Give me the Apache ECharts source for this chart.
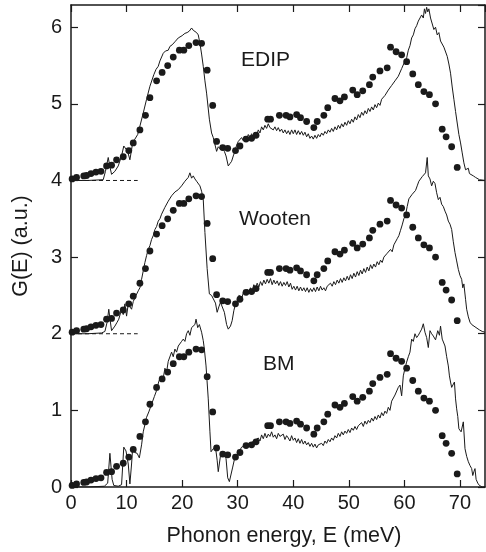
<!DOCTYPE html>
<html>
<head>
<meta charset="utf-8">
<script src="https://cdn.jsdelivr.net/npm/echarts@6/dist/echarts.min.js"></script>
<style>
html,body{margin:0;padding:0;background:#fff;}
#chart{width:486px;height:552px;}
</style>
</head>
<body>
<div id="chart"></div>
<script>
// Experimental points (unshifted G(E))
const expE = [0.2,1.0,2.3,2.8,3.6,4.5,5.4,6.4,7.3,8.2,9.4,10.4,11.2,12.4,13.4,14.2,15.4,16.4,17.4,18.4,19.5,20.3,21.2,22.5,23.5,24.5,25.5,26.2,27.3,28.2,29.6,30.4,31.5,32.5,33.3,35.4,35.9,37.5,38.7,39.4,40.6,41.3,42.4,43.7,44.3,45.5,46.2,47.5,48.4,49.2,50.7,51.5,52.5,53.7,54.3,55.6,56.9,57.5,58.5,59.5,60.4,61.5,62.5,63.5,64.5,65.6,66.8,67.5,68.5,69.5];
const expG = [0.02,0.04,0.06,0.065,0.09,0.11,0.12,0.19,0.20,0.27,0.31,0.39,0.49,0.66,0.85,1.08,1.30,1.41,1.50,1.61,1.70,1.70,1.76,1.80,1.79,1.44,0.98,0.51,0.43,0.42,0.39,0.45,0.54,0.55,0.59,0.80,0.80,0.85,0.85,0.83,0.86,0.82,0.77,0.69,0.77,0.85,0.95,1.07,1.04,1.09,1.18,1.12,1.17,1.25,1.35,1.43,1.47,1.74,1.68,1.64,1.55,1.39,1.25,1.16,1.12,1.00,0.67,0.57,0.44,0.17];

// Model curves [E, G] (unshifted)
const bmCurve = [[0,0],[3,0],[6,0.01],[6.6,0.05],[7.0,0.44],[7.4,0.1],[7.7,0.02],[8.5,0.01],[9.1,0.03],[9.5,0.52],[9.9,0.47],[10.3,0.3],[10.6,0.04],[10.9,0.3],[11.1,0.51],[11.5,0.45],[11.9,0.44],[12.3,0.38],[12.7,0.55],[13.0,0.72],[13.6,0.91],[14.0,0.98],[14.5,1.08],[15.0,1.18],[15.4,1.26],[15.8,1.38],[16.3,1.45],[16.6,1.42],[16.9,1.55],[17.2,1.5],[17.5,1.64],[17.8,1.62],[18.1,1.76],[18.4,1.70],[18.7,1.8],[19.0,1.76],[19.3,1.84],[19.6,1.83],[19.9,1.9],[20.2,1.93],[20.5,1.9],[20.8,2.0],[21.1,2.04],[21.4,1.98],[21.7,2.08],[22.0,2.06],[22.3,2.12],[22.5,2.19],[22.8,2.08],[23.1,2.12],[23.5,2.02],[23.8,1.91],[24.0,1.8],[24.3,1.58],[24.7,1.15],[25.0,0.72],[25.2,0.46],[25.6,0.5],[26.0,0.52],[26.3,0.35],[26.5,0.2],[26.9,0.41],[27.4,0.43],[27.9,0.37],[28.2,0.12],[28.5,0.07],[28.8,0.08],[29.1,0.26],[29.5,0.39],[30.1,0.43],[30.4,0.48],[30.7,0.52],[31.0,0.5],[31.3,0.54],[31.6,0.52],[31.9,0.57],[32.2,0.53],[32.5,0.58],[32.8,0.56],[33.1,0.61],[33.4,0.59],[33.7,0.64],[34.0,0.6],[34.3,0.68],[34.6,0.63],[34.9,0.7],[35.2,0.64],[35.5,0.69],[35.8,0.66],[36.1,0.72],[36.4,0.65],[36.7,0.68],[37.0,0.63],[37.3,0.7],[37.6,0.66],[37.9,0.64],[38.2,0.69],[38.5,0.62],[38.8,0.67],[39.1,0.64],[39.4,0.6],[39.7,0.67],[40.0,0.61],[40.3,0.64],[40.6,0.58],[40.9,0.63],[41.2,0.57],[41.5,0.62],[41.8,0.56],[42.1,0.6],[42.4,0.55],[42.7,0.58],[43.0,0.53],[43.3,0.57],[43.6,0.52],[43.9,0.56],[44.2,0.51],[44.5,0.55],[44.8,0.53],[45.1,0.57],[45.4,0.54],[45.7,0.6],[46.0,0.57],[46.3,0.62],[46.6,0.59],[46.9,0.64],[47.2,0.61],[47.5,0.67],[47.8,0.64],[48.1,0.7],[48.4,0.66],[48.7,0.72],[49.0,0.68],[49.3,0.73],[49.6,0.7],[49.9,0.75],[50.2,0.71],[50.5,0.77],[50.8,0.74],[51.1,0.79],[51.4,0.75],[51.7,0.8],[52.0,0.78],[52.3,0.84],[52.6,0.79],[52.9,0.86],[53.2,0.82],[53.5,0.87],[53.8,0.84],[54.1,0.9],[54.4,0.86],[54.7,0.92],[55.0,0.88],[55.3,0.94],[55.6,0.9],[55.9,0.97],[56.2,0.93],[56.5,0.99],[56.8,0.96],[57.1,1.04],[57.4,1.0],[57.7,1.12],[58.0,1.1],[58.3,1.2],[58.6,1.18],[58.9,1.3],[59.2,1.33],[59.5,1.19],[59.8,1.45],[60.1,1.55],[60.4,1.63],[60.7,1.7],[61.0,1.76],[61.3,1.93],[61.6,1.9],[61.9,2.0],[62.2,1.95],[62.5,1.98],[62.8,2.02],[63.1,2.06],[63.4,2.13],[63.7,2.02],[64.0,1.95],[64.3,1.82],[64.6,2.04],[64.9,2.0],[65.2,1.97],[65.6,1.92],[66.0,2.04],[66.3,1.98],[66.5,2.1],[66.8,1.93],[67.0,1.95],[67.3,1.84],[67.6,1.7],[67.9,1.58],[68.1,1.45],[68.3,1.37],[68.5,1.3],[68.7,1.28],[69.0,1.37],[69.2,1.15],[69.4,1.02],[69.6,0.92],[69.8,0.76],[70.2,0.72],[70.6,0.85],[70.9,0.5],[71.2,0.4],[71.5,0.33],[71.8,0.28],[72.1,0.24],[72.3,0.15],[72.5,0.2],[72.7,0.24],[72.9,0.1],[73.2,0.05],[73.5,0.02],[74.0,0.0],[74.5,0.0]];

const wootenCurve = [[0,0],[3,0],[5.5,0.01],[6.1,0.03],[6.5,0.15],[6.8,0.32],[7.0,0.2],[7.3,0.04],[7.9,0.1],[8.3,0.15],[8.6,0.19],[9.1,0.32],[9.4,0.25],[9.7,0.39],[10.0,0.23],[10.3,0.39],[10.6,0.35],[10.9,0.32],[11.2,0.42],[11.5,0.47],[11.8,0.45],[12.1,0.56],[12.4,0.6],[12.7,0.71],[13.0,0.82],[13.3,0.93],[13.6,1.02],[13.9,1.1],[14.2,1.15],[14.5,1.23],[14.8,1.28],[15.1,1.36],[15.4,1.4],[15.7,1.47],[16.0,1.5],[16.3,1.56],[16.6,1.58],[16.9,1.65],[17.2,1.66],[17.5,1.73],[17.8,1.74],[18.1,1.8],[18.4,1.8],[18.7,1.85],[19.0,1.84],[19.3,1.88],[19.6,1.89],[19.9,1.93],[20.2,1.94],[20.5,1.99],[20.8,2.0],[21.1,2.04],[21.4,2.1],[21.7,2.03],[22.0,2.06],[22.3,2.02],[22.6,1.99],[22.9,1.97],[23.2,1.93],[23.5,1.86],[23.8,1.75],[24.1,1.32],[24.5,0.85],[24.9,0.52],[25.3,0.5],[25.6,0.49],[26.0,0.4],[26.3,0.28],[26.6,0.35],[26.9,0.41],[27.2,0.4],[27.6,0.28],[28.0,0.12],[28.3,0.06],[28.7,0.1],[29.0,0.17],[29.3,0.3],[29.6,0.39],[29.9,0.42],[30.2,0.5],[30.5,0.52],[30.8,0.48],[31.1,0.56],[31.4,0.51],[31.7,0.58],[32.0,0.54],[32.3,0.6],[32.6,0.56],[32.9,0.64],[33.2,0.59],[33.5,0.66],[33.8,0.61],[34.1,0.68],[34.4,0.63],[34.7,0.7],[35.0,0.65],[35.3,0.71],[35.6,0.66],[35.9,0.72],[36.2,0.64],[36.5,0.7],[36.8,0.65],[37.1,0.69],[37.4,0.63],[37.7,0.68],[38.0,0.62],[38.3,0.67],[38.6,0.63],[38.9,0.68],[39.2,0.61],[39.5,0.66],[39.8,0.58],[40.1,0.62],[40.4,0.57],[40.7,0.62],[41.0,0.56],[41.3,0.61],[41.6,0.56],[41.9,0.6],[42.2,0.55],[42.5,0.6],[42.8,0.54],[43.1,0.59],[43.4,0.55],[43.7,0.6],[44.0,0.55],[44.3,0.61],[44.6,0.56],[44.9,0.62],[45.2,0.57],[45.5,0.6],[45.8,0.56],[46.1,0.62],[46.4,0.6],[46.7,0.66],[47.0,0.62],[47.3,0.68],[47.6,0.64],[47.9,0.7],[48.2,0.66],[48.5,0.72],[48.8,0.67],[49.1,0.73],[49.4,0.69],[49.7,0.75],[50.0,0.7],[50.3,0.77],[50.6,0.72],[50.9,0.79],[51.2,0.74],[51.5,0.81],[51.8,0.76],[52.1,0.83],[52.4,0.78],[52.7,0.85],[53.0,0.8],[53.3,0.87],[53.6,0.82],[53.9,0.9],[54.2,0.85],[54.5,0.91],[54.8,0.87],[55.1,0.94],[55.4,0.9],[55.7,0.96],[56.0,0.93],[56.3,1.0],[56.6,0.98],[56.9,1.05],[57.2,1.03],[57.5,1.1],[57.8,1.07],[58.1,1.16],[58.4,1.17],[58.7,1.24],[59.0,1.28],[59.3,1.35],[59.6,1.42],[59.9,1.5],[60.2,1.55],[60.5,1.66],[60.8,1.76],[61.1,1.78],[61.4,1.82],[61.7,1.8],[62.0,1.87],[62.3,1.93],[62.6,1.99],[62.9,2.0],[63.2,2.05],[63.5,2.03],[63.8,2.1],[64.1,2.3],[64.3,2.06],[64.6,2.02],[64.9,1.93],[65.2,1.99],[65.5,1.96],[65.8,1.84],[66.1,1.75],[66.4,1.78],[66.7,1.69],[67.0,1.66],[67.3,1.6],[67.6,1.55],[67.9,1.47],[68.2,1.43],[68.5,1.36],[68.8,1.2],[69.1,1.06],[69.4,0.95],[69.7,0.84],[70.0,0.76],[70.3,0.71],[70.5,0.6],[70.7,0.65],[71.0,0.45],[71.2,0.32],[71.5,0.22],[71.8,0.15],[72.1,0.12],[72.4,0.11],[72.7,0.09],[73.0,0.08],[73.5,0.05],[74.0,0.03],[74.5,0.02]];

const edipCurve = [[0,0],[3,0],[5.8,0.01],[6.2,0.12],[6.7,0.3],[7.0,0.18],[7.3,0.08],[7.9,0.12],[8.5,0.19],[9.1,0.32],[9.5,0.45],[10.0,0.4],[10.3,0.35],[10.6,0.27],[11.1,0.49],[11.5,0.54],[12.0,0.6],[12.4,0.71],[13.0,0.88],[13.6,1.06],[14.2,1.23],[14.9,1.38],[15.3,1.45],[15.7,1.49],[16.0,1.56],[16.3,1.58],[16.6,1.66],[17.0,1.69],[17.2,1.71],[17.5,1.7],[17.8,1.75],[18.2,1.77],[18.7,1.81],[19.0,1.8],[19.3,1.86],[19.6,1.88],[20.0,1.89],[20.5,1.92],[20.9,1.93],[21.3,1.95],[21.5,1.93],[21.7,1.99],[22.0,1.96],[22.3,1.95],[22.6,1.93],[22.9,1.9],[23.2,1.79],[23.5,1.65],[23.8,1.49],[24.1,1.3],[24.4,1.14],[24.9,0.8],[25.3,0.62],[25.6,0.56],[25.9,0.54],[26.2,0.38],[26.5,0.44],[26.8,0.45],[27.0,0.4],[27.3,0.43],[27.6,0.38],[27.9,0.32],[28.3,0.19],[28.6,0.22],[28.9,0.25],[29.2,0.32],[29.5,0.38],[29.8,0.46],[30.1,0.51],[30.4,0.5],[30.7,0.56],[31.0,0.52],[31.3,0.58],[31.6,0.54],[31.9,0.6],[32.2,0.56],[32.5,0.61],[32.8,0.57],[33.1,0.63],[33.4,0.59],[33.7,0.66],[34.0,0.62],[34.3,0.7],[34.6,0.66],[34.9,0.72],[35.2,0.68],[35.5,0.74],[35.8,0.69],[36.1,0.71],[36.4,0.66],[36.7,0.7],[37.0,0.65],[37.3,0.69],[37.6,0.64],[37.9,0.67],[38.2,0.62],[38.5,0.66],[38.8,0.61],[39.1,0.65],[39.4,0.6],[39.7,0.66],[40.0,0.61],[40.3,0.66],[40.6,0.6],[40.9,0.65],[41.2,0.6],[41.5,0.64],[41.8,0.59],[42.1,0.63],[42.4,0.57],[42.7,0.61],[43.0,0.55],[43.3,0.58],[43.6,0.54],[43.9,0.59],[44.2,0.55],[44.5,0.6],[44.8,0.57],[45.1,0.62],[45.4,0.59],[45.7,0.64],[46.0,0.61],[46.3,0.66],[46.6,0.63],[46.9,0.68],[47.2,0.64],[47.5,0.7],[47.8,0.66],[48.1,0.72],[48.4,0.68],[48.7,0.74],[49.0,0.7],[49.3,0.76],[49.6,0.72],[49.9,0.78],[50.2,0.74],[50.5,0.8],[50.8,0.76],[51.1,0.83],[51.4,0.79],[51.7,0.86],[52.0,0.82],[52.3,0.89],[52.6,0.85],[52.9,0.91],[53.2,0.87],[53.5,0.94],[53.8,0.9],[54.1,0.96],[54.4,0.92],[54.7,0.99],[55.0,0.95],[55.3,1.01],[55.6,0.98],[55.9,1.06],[56.2,1.04],[56.5,1.11],[56.8,1.1],[57.1,1.18],[57.4,1.17],[57.7,1.24],[58.0,1.23],[58.3,1.3],[58.6,1.29],[58.9,1.36],[59.2,1.38],[59.5,1.46],[59.8,1.48],[60.1,1.56],[60.4,1.6],[60.7,1.7],[61.0,1.76],[61.3,1.86],[61.6,1.9],[61.9,1.98],[62.2,2.02],[62.5,2.08],[62.8,2.06],[63.1,2.16],[63.4,2.12],[63.6,2.24],[63.8,2.18],[64.0,2.26],[64.2,2.2],[64.4,2.24],[64.7,2.12],[65.0,2.1],[65.3,1.97],[65.6,2.0],[65.9,1.9],[66.2,1.93],[66.5,1.82],[66.8,1.84],[67.1,1.74],[67.4,1.72],[67.7,1.62],[68.0,1.52],[68.3,1.4],[68.6,1.22],[68.9,1.06],[69.2,0.9],[69.5,0.75],[69.8,0.6],[70.1,0.49],[70.4,0.36],[70.7,0.23],[71.0,0.14],[71.3,0.12],[71.5,0.16],[71.7,0.09],[72.0,0.1],[72.4,0.06],[72.8,0.04],[73.5,0.01],[74.5,0.0]];

const modelNames = ['EDIP','Wooten','BM'];
const modelOffsets = [4, 2, 0];
const baselineE = [0, 12];
const xTicks = [0,10,20,30,40,50,60,70];
const yTicks = [0,1,2,3,4,5,6];

const ink = '#1a1a1a';
const font = "'Liberation Sans', Arial, Helvetica, sans-serif";
const curves = [edipCurve, wootenCurve, bmCurve];

const series = [];
curves.forEach((c, i) => {
  const off = modelOffsets[i];
  series.push({
    type: 'line', name: modelNames[i], showSymbol: false, symbol: 'none',
    lineStyle: { color: ink, width: 1 },
    data: c.map(p => [p[0], p[1] + off]),
    z: 2, silent: true
  });
  series.push({
    type: 'scatter', symbolSize: 6.8,
    itemStyle: { color: ink, opacity: 1 },
    data: expE.map((e, k) => [e, expG[k] + off]),
    z: 3, silent: true
  });
  if (off > 0) {
    series.push({
      type: 'line', showSymbol: false, symbol: 'none',
      lineStyle: { color: ink, width: 1, type: [4, 3] },
      data: baselineE.map(e => [e, off]),
      z: 1, silent: true
    });
  }
});

const chart = echarts.init(document.getElementById('chart'), null, { renderer: 'canvas' });
const mkLine = () => ({ show: true, onZero: false, lineStyle: { color: ink, width: 1.5 } });
const mkTick = () => ({ show: true, inside: true, length: 7, lineStyle: { color: ink, width: 1.2 } });
chart.setOption({
  animation: false,
  backgroundColor: '#fff',
  grid: { left: 71, right: 1, top: 5, bottom: 64 },
  xAxis: [{
    type: 'value', min: 0, max: 74.5, interval: 10, position: 'bottom',
    axisLine: mkLine(), axisTick: mkTick(), splitLine: { show: false },
    axisLabel: { color: ink, fontSize: 20, fontFamily: font, margin: 6, showMaxLabel: false,
      formatter: v => xTicks.includes(v) ? String(v) : '' },
    name: 'Phonon energy, E (meV)', nameLocation: 'middle', nameGap: 38,
    nameTextStyle: { color: ink, fontSize: 21.5, fontFamily: font, padding: [0, 0, 0, 12] }
  }, {
    type: 'value', min: 0, max: 74.5, interval: 10, position: 'top',
    axisLine: mkLine(), axisTick: mkTick(), axisLabel: { show: false }, splitLine: { show: false }
  }],
  yAxis: [{
    type: 'value', min: 0, max: 6.29, interval: 1, position: 'left',
    axisLine: mkLine(), axisTick: mkTick(), splitLine: { show: false },
    axisLabel: { color: ink, fontSize: 20, fontFamily: font, margin: 9, showMaxLabel: false,
      formatter: v => yTicks.includes(v) ? String(v) : '' },
    name: 'G(E) (a.u.)', nameLocation: 'middle', nameGap: 39,
    nameTextStyle: { color: ink, fontSize: 21.5, fontFamily: font }
  }, {
    type: 'value', min: 0, max: 6.29, interval: 1, position: 'right',
    axisLine: mkLine(), axisTick: mkTick(), axisLabel: { show: false }, splitLine: { show: false }
  }],
  graphic: [
    { type: 'text', left: 241, top: 50, style: { text: 'EDIP', fill: ink, font: "21px 'Liberation Sans', Arial, sans-serif" } },
    { type: 'text', left: 239, top: 209, style: { text: 'Wooten', fill: ink, font: "21px 'Liberation Sans', Arial, sans-serif" } },
    { type: 'text', left: 263, top: 354, style: { text: 'BM', fill: ink, font: "21px 'Liberation Sans', Arial, sans-serif" } }
  ],
  series
});
</script>
</body>
</html>
